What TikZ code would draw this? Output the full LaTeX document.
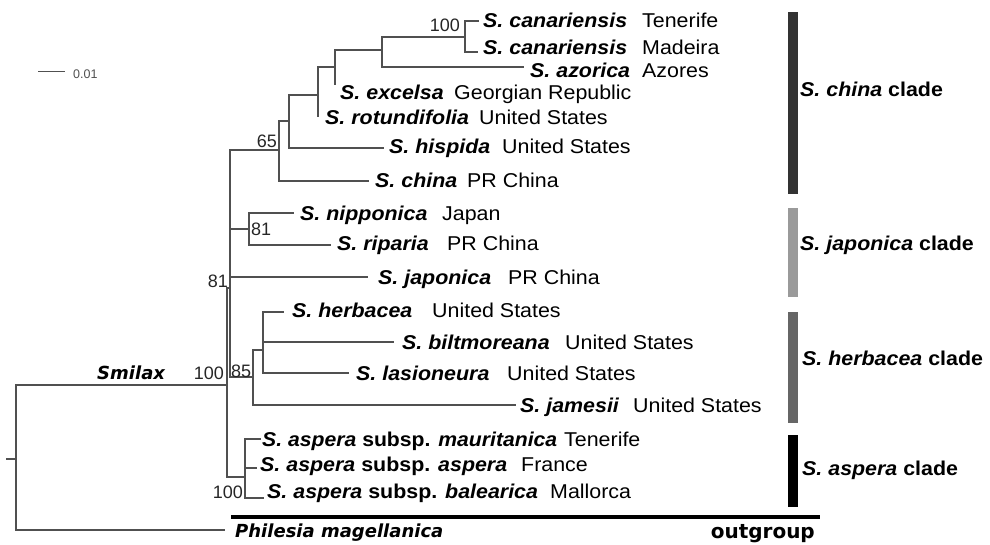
\documentclass[tikz,border=0pt]{standalone}
\usepackage{fontspec}
\setmainfont{Liberation Sans}[FakeStretch=1.07]
\newfontfamily\dvfont{DejaVu Sans}
\newfontfamily\nlfont{Liberation Sans}
\definecolor{treeline}{HTML}{505050}
\definecolor{cladeA}{HTML}{333333}
\definecolor{cladeB}{HTML}{9A9A9A}
\definecolor{cladeC}{HTML}{666666}
\definecolor{cladeD}{HTML}{000000}
\begin{document}
\begin{tikzpicture}[x=1pt,y=-1pt,
  br/.style={draw=treeline,line width=1.1pt,line cap=rect},
  tip/.style={anchor=base west,inner sep=0pt,font=\fontsize{20}{24}\selectfont\bfseries\itshape},
  loc/.style={anchor=base west,inner sep=0pt,font=\fontsize{20}{24}\selectfont},
  cladelab/.style={anchor=base west,inner sep=0pt,font=\fontsize{20}{24}\selectfont\bfseries},
  supp/.style={inner sep=0pt,font=\nlfont\fontsize{18}{20}\selectfont,text=black!85}]
\useasboundingbox (0,0) rectangle (990,544);

% ---- tree coordinates ----
\coordinate (stub) at (7,459);
\coordinate (root) at (16,459);
\coordinate (Sm) at (227,385);
\coordinate (Ph) at (224,530);
\coordinate (N81) at (230,288);
\coordinate (Nasp) at (245,477);
\coordinate (N65) at (279,150);
\coordinate (Nnip) at (249,229);
\coordinate (Ljap) at (367,277);
\coordinate (N85) at (253,377);
\coordinate (Na) at (289,121);
\coordinate (Lchina) at (368,181);
\coordinate (Nb) at (318,95);
\coordinate (Lhisp) at (383,148);
\coordinate (Nc) at (335,67);
\coordinate (Lrot) at (318,116);
\coordinate (Nd) at (382,50);
\coordinate (Lexc) at (335,84);
\coordinate (Ne) at (465,37);
\coordinate (Lazo) at (523,67);
\coordinate (Lcan1) at (478,21);
\coordinate (Lcan2) at (477,52);
\coordinate (Lnip) at (293,213);
\coordinate (Lrip) at (330,245);
\coordinate (Nf) at (263,350);
\coordinate (Ljam) at (515,405);
\coordinate (Lherb) at (283,312);
\coordinate (Lbilt) at (393,342);
\coordinate (Llas) at (348,373);
\coordinate (Lmaur) at (260,439);
\coordinate (Lasp) at (256,468);
\coordinate (Lbal) at (263,498);

% ---- branches ----
\draw[br] (stub) -- (root);
\draw[br] (root |- Sm) -- (root |- Ph);
\draw[br] (root |- Sm) -- (Sm);
\draw[br] (root |- Ph) -- (Ph);

\draw[br] (Sm |- N81) -- (Sm |- Nasp);
\draw[br] (Sm |- N81) -- (N81);
\draw[br] (Sm |- Nasp) -- (Nasp);

\draw[br] (N81 |- N65) -- (N81 |- N85);
\draw[br] (N81 |- N65) -- (N65);
\draw[br] (N81 |- Nnip) -- (Nnip);
\draw[br] (N81 |- Ljap) -- (Ljap);
\draw[br] (N81 |- N85) -- (N85);

\draw[br] (N65 |- Na) -- (N65 |- Lchina);
\draw[br] (N65 |- Na) -- (Na);
\draw[br] (N65 |- Lchina) -- (Lchina);

\draw[br] (Na |- Nb) -- (Na |- Lhisp);
\draw[br] (Na |- Nb) -- (Nb);
\draw[br] (Na |- Lhisp) -- (Lhisp);

\draw[br] (Nb |- Nc) -- (Lrot);
\draw[br] (Nb |- Nc) -- (Nc);

\draw[br] (Nc |- Nd) -- (Lexc);
\draw[br] (Nc |- Nd) -- (Nd);

\draw[br] (Nd |- Ne) -- (Nd |- Lazo);
\draw[br] (Nd |- Ne) -- (Ne);
\draw[br] (Nd |- Lazo) -- (Lazo);

\draw[br] (Ne |- Lcan1) -- (Ne |- Lcan2);
\draw[br] (Ne |- Lcan1) -- (Lcan1);
\draw[br] (Ne |- Lcan2) -- (Lcan2);

\draw[br] (Nnip |- Lnip) -- (Nnip |- Lrip);
\draw[br] (Nnip |- Lnip) -- (Lnip);
\draw[br] (Nnip |- Lrip) -- (Lrip);

\draw[br] (N85 |- Nf) -- (N85 |- Ljam);
\draw[br] (N85 |- Nf) -- (Nf);
\draw[br] (N85 |- Ljam) -- (Ljam);

\draw[br] (Nf |- Lherb) -- (Nf |- Llas);
\draw[br] (Nf |- Lherb) -- (Lherb);
\draw[br] (Nf |- Lbilt) -- (Lbilt);
\draw[br] (Nf |- Llas) -- (Llas);

\draw[br] (Nasp |- Lmaur) -- (Nasp |- Lbal);
\draw[br] (Nasp |- Lmaur) -- (Lmaur);
\draw[br] (Nasp |- Lasp) -- (Lasp);
\draw[br] (Nasp |- Lbal) -- (Lbal);

% ---- tip labels: species ----
\node[tip] (sp1) at (483,27) {\resizebox{144pt}{\height}{S. canariensis}};
\node[tip] (sp2) at (483,54) {\resizebox{144pt}{\height}{S. canariensis}};
\node[tip] (sp3) at (530,77) {S. azorica};
\node[tip] (sp4) at (340,99) {S. excelsa};
\node[tip] (sp5) at (325,124) {S. rotundifolia};
\node[tip] (sp6) at (389,153) {S. hispida};
\node[tip] (sp7) at (375,187) {S. china};
\node[tip] (sp8) at (300,220) {S. nipponica};
\node[tip] (sp9) at (337,250) {S. riparia};
\node[tip] (sp10) at (378,284) {S. japonica};
\node[tip] (sp11) at (292,317) {S. herbacea};
\node[tip] (sp12) at (402,349) {S. biltmoreana};
\node[tip] (sp13) at (356,380) {S. lasioneura};
\node[tip] (sp14) at (520,412) {S. jamesii};
\node[tip] (sp15) at (262,446) {\resizebox{295pt}{\height}{S. aspera \upshape subsp. \itshape mauritanica}};
\node[tip] (sp16) at (260,471) {S. aspera \upshape subsp. \itshape aspera};
\node[tip] (sp17) at (267,498) {S. aspera \upshape subsp. \itshape balearica};
\node[anchor=base west,inner sep=0pt,font=\dvfont\fontsize{18}{20}\selectfont\bfseries\itshape] (sp18) at (235,537) {Philesia magellanica};

% ---- tip labels: localities ----
\node[loc] (loc1) at (642,27) {Tenerife};
\node[loc] (loc2) at (642,54) {Madeira};
\node[loc] (loc3) at (642,77) {Azores};
\node[loc] (loc4) at (454,99) {Georgian Republic};
\node[loc] (loc5) at (479,124) {United States};
\node[loc] (loc6) at (502,153) {United States};
\node[loc] (loc7) at (467,187) {PR China};
\node[loc] (loc8) at (442,220) {Japan};
\node[loc] (loc9) at (447,250) {PR China};
\node[loc] (loc10) at (508,284) {PR China};
\node[loc] (loc11) at (432,317) {United States};
\node[loc] (loc12) at (565,349) {United States};
\node[loc] (loc13) at (507,380) {United States};
\node[loc] (loc14) at (633,412) {United States};
\node[loc] (loc15) at (564,446) {Tenerife};
\node[loc] (loc16) at (521,471) {France};
\node[loc] (loc17) at (550,498) {Mallorca};

% ---- support values ----
\node[supp,anchor=base east] (s1) at (460,31) {100};
\node[supp,anchor=base east] (s2) at (277,147) {65};
\node[supp,anchor=base west] (s3) at (251,235) {81};
\node[supp,anchor=base east] (s4) at (228,287) {81};
\node[supp,anchor=base east] (s5) at (224,379) {100};
\node[supp,anchor=base west] (s6) at (231,377) {85};
\node[supp,anchor=base east] (s7) at (243,498) {100};
\node[anchor=base west,inner sep=0pt,font=\dvfont\fontsize{18}{20}\selectfont\bfseries\itshape] (smilax) at (97,379) {Smilax};

% ---- scale bar ----
\coordinate (sb1) at (38,71);
\coordinate (sb2) at (65,71);
\draw[treeline,line width=1pt] (sb1) -- (sb2);
\node[anchor=base west,inner sep=0pt,font=\nlfont\fontsize{12.5}{14}\selectfont,text=treeline] (sbl) at (73,78) {0.01};

% ---- clade bars ----
\fill[cladeA] (787.7,11.7) rectangle (798.3,194);
\fill[cladeB] (787.7,208) rectangle (798.3,296.7);
\fill[cladeC] (787.7,311.7) rectangle (798.3,422.7);
\fill[cladeD] (787.7,435) rectangle (798.3,507.3);
\node[cladelab] (c1) at (800,96) {\itshape S. china\upshape{} clade};
\node[cladelab] (c2) at (800,250) {\itshape S. japonica\upshape{} clade};
\node[cladelab] (c3) at (802,365) {\itshape S. herbacea\upshape{} clade};
\node[cladelab] (c4) at (802,475) {\itshape S. aspera\upshape{} clade};

% ---- outgroup ----
\coordinate (og1) at (231,517);
\coordinate (og2) at (820,517);
\draw[line width=4pt] (og1) -- (og2);
\node[anchor=base east,inner sep=0pt,font=\dvfont\fontsize{20}{22}\selectfont\bfseries] (ogl) at (815,538) {outgroup};
\end{tikzpicture}
\end{document}
